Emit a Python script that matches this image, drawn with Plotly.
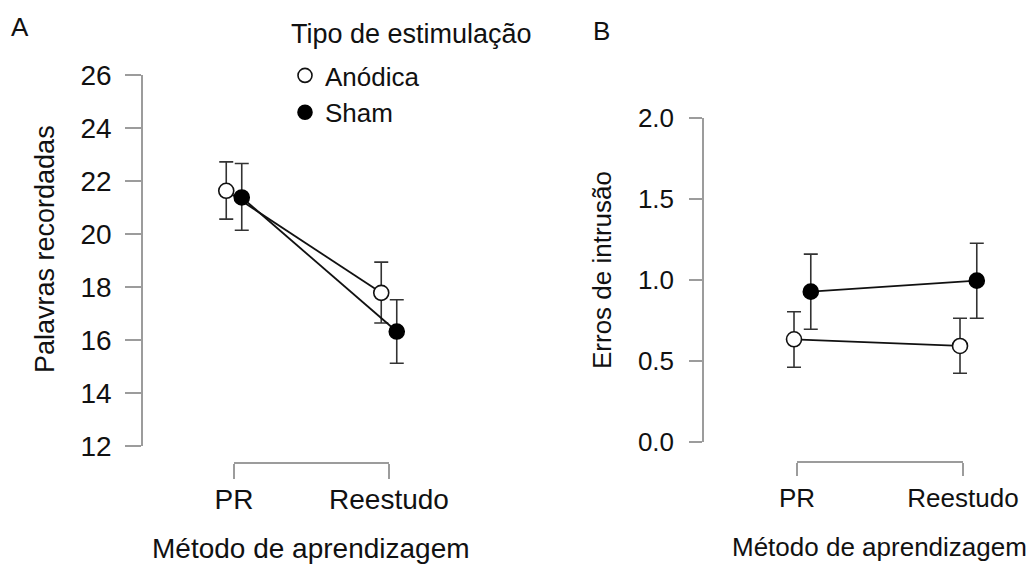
import plotly.graph_objects as go

# ---------------- data ----------------
categories = ["PR", "Reestudo"]
groups = ["Anódica", "Sham"]
legend_title = "Tipo de estimulação"

# Panel A: Palavras recordadas (mean, lower, upper)
a_anodica_mean = [21.63, 17.78]
a_anodica_low = [20.56, 16.64]
a_anodica_high = [22.72, 18.94]
a_sham_mean = [21.38, 16.32]
a_sham_low = [20.14, 15.12]
a_sham_high = [22.66, 17.52]

# Panel B: Erros de intrusão (mean, lower, upper)
b_anodica_mean = [0.634, 0.593]
b_anodica_low = [0.461, 0.424]
b_anodica_high = [0.804, 0.764]
b_sham_mean = [0.928, 0.996]
b_sham_low = [0.696, 0.764]
b_sham_high = [1.160, 1.227]

a_yticks = [12, 14, 16, 18, 20, 22, 24, 26]
b_yticks = [0.0, 0.5, 1.0, 1.5, 2.0]

# ---------------- layout helpers ----------------
W, H = 1036, 566
OFF = 8  # page body margin in the browser
FONT = "Liberation Sans, Arial, Helvetica, sans-serif"
TXT = "#111111"
AXC = "#9c9c9c"


def px(p):
    return (p - OFF) / W


def py(p):
    return 1 - (p - OFF) / H


def data_domain(left, right, cat0, cat1):
    scale = cat1 - cat0
    return [px(left), px(right)], [(left - cat0) / scale, (right - cat0) / scale]


fig = go.Figure()

styles = {
    "Anódica": dict(color="white", line=dict(color="#111111", width=1.6)),
    "Sham": dict(color="#000000", line=dict(color="#000000", width=1.6)),
}


def add_group(name, means, low, high, offset, xa, ya):
    xs = [i + offset for i in range(len(categories))]
    fig.add_trace(go.Scatter(
        x=xs, y=means, mode="lines+markers", name=name, showlegend=False,
        xaxis=xa, yaxis=ya,
        line=dict(color="#111111", width=1.8),
        marker=dict(size=15, symbol="circle", **styles[name]),
        error_y=dict(type="data", symmetric=False,
                     array=[h - m for h, m in zip(high, means)],
                     arrayminus=[m - l for m, l in zip(means, low)],
                     color="#333333", thickness=1.6, width=7),
        hoverinfo="skip",
    ))


# Panel A
add_group("Anódica", a_anodica_mean, a_anodica_low, a_anodica_high, -0.05, "x", "y")
add_group("Sham", a_sham_mean, a_sham_low, a_sham_high, 0.05, "x", "y")
# Panel B
add_group("Anódica", b_anodica_mean, b_anodica_low, b_anodica_high, -0.018, "x2", "y2")
add_group("Sham", b_sham_mean, b_sham_low, b_sham_high, 0.083, "x2", "y2")

# bracket axes carriers (invisible)
fig.add_trace(go.Scatter(x=[0, 1], y=[None, None], xaxis="x3", yaxis="y", showlegend=False,
                         hoverinfo="skip", mode="markers"))
fig.add_trace(go.Scatter(x=[0, 1], y=[None, None], xaxis="x4", yaxis="y2", showlegend=False,
                         hoverinfo="skip", mode="markers"))

# legend entries
for g in groups:
    fig.add_trace(go.Scatter(x=[None], y=[None], mode="markers", name=g, xaxis="x", yaxis="y",
                             marker=dict(size=14, symbol="circle", **styles[g])))

domA, rngA = data_domain(150, 540, 234, 389)
domB, rngB = data_domain(720, 1030, 797, 963)

yaxis_common = dict(showgrid=False, zeroline=False, showline=True, linecolor=AXC, linewidth=1.5,
                    ticks="outside", tickcolor=AXC, tickwidth=1.5, anchor="free", automargin=False)
xbr_common = dict(showgrid=False, zeroline=False, showline=True, linecolor=AXC, linewidth=1.5,
                  ticks="outside", tickcolor=AXC, tickwidth=1.5, anchor="free", automargin=False,
                  range=[0, 1], tickvals=[0, 1], ticktext=categories)

fig.update_layout(
    width=W, height=H,
    margin=dict(l=0, r=0, t=0, b=0, pad=0, autoexpand=False),
    paper_bgcolor="white", plot_bgcolor="rgba(0,0,0,0)",
    font=dict(family=FONT, color=TXT),
    xaxis=dict(domain=domA, range=rngA, visible=False, anchor="y", automargin=False),
    yaxis=dict(domain=[py(446), py(75)], range=[12, 26], tickvals=a_yticks,
               position=px(142), ticklen=16, ticklabelstandoff=8,
               tickfont=dict(family=FONT, color=TXT, size=28), **yaxis_common),
    xaxis2=dict(domain=domB, range=rngB, visible=False, anchor="y2", automargin=False),
    yaxis2=dict(domain=[py(442), py(118)], range=[0, 2], tickvals=b_yticks, tickformat=".1f",
                position=px(703), ticklen=13, ticklabelstandoff=10,
                tickfont=dict(family=FONT, color=TXT, size=26), **yaxis_common),
    xaxis3=dict(domain=[px(234), px(389)], position=py(463), ticklen=15, ticklabelstandoff=-3,
                tickfont=dict(family=FONT, color=TXT, size=28), **xbr_common),
    xaxis4=dict(domain=[px(797), px(963)], position=py(462), ticklen=13, ticklabelstandoff=0,
                tickfont=dict(family=FONT, color=TXT, size=26), **xbr_common),
    legend=dict(x=px(285), y=py(52), xanchor="left", yanchor="top",
                font=dict(family=FONT, size=26, color=TXT), bgcolor="rgba(0,0,0,0)",
                tracegroupgap=0, itemclick=False),
    showlegend=True,
)

ann = [
    dict(text="A", x=px(20), y=py(27), size=26, angle=0, xa="center"),
    dict(text="B", x=px(601), y=py(31), size=26, angle=0, xa="center"),
    dict(text=legend_title, x=px(289), y=py(34), size=27, angle=0, xa="left"),
    dict(text="Palavras recordadas", x=px(45), y=py(249), size=27, angle=-90, xa="center"),
    dict(text="Erros de intrusão", x=px(602), y=py(270), size=26, angle=-90, xa="center"),
    dict(text="Método de aprendizagem", x=px(311), y=py(548), size=28, angle=0, xa="center"),
    dict(text="Método de aprendizagem", x=px(879), y=py(547), size=26, angle=0, xa="center"),
]
for a in ann:
    fig.add_annotation(text=a["text"], x=a["x"], y=a["y"], xref="paper", yref="paper",
                       xanchor=a["xa"], yanchor="middle", showarrow=False, textangle=a["angle"],
                       font=dict(family=FONT, size=a["size"], color=TXT))

fig.write_html("out.html")
